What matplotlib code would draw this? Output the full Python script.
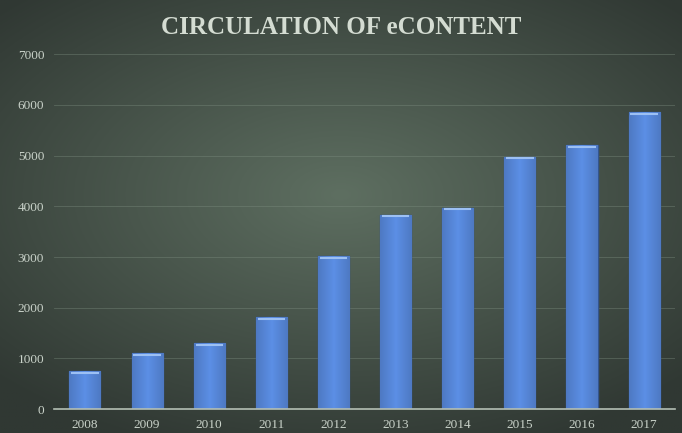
import matplotlib.pyplot as plt
import numpy as np

# data
years = ['2008', '2009', '2010', '2011', '2012', '2013', '2014', '2015', '2016', '2017']
circulation = [750, 1100, 1300, 1810, 3020, 3830, 3970, 4980, 5200, 5850]
yticks = [0, 1000, 2000, 3000, 4000, 5000, 6000, 7000]

fig = plt.figure(figsize=(6.82, 4.33), dpi=100)

# radial background
bg = fig.add_axes([0, 0, 1, 1], zorder=0)
yy, xx = np.mgrid[-1:1:300j, -1:1:400j]
r = np.sqrt((xx * 0.9) ** 2 + ((yy + 0.1) * 1.0) ** 2)
r = np.clip(r / 1.25, 0, 1)
inner = np.array([0x5e, 0x6f, 0x61]) / 255
outer = np.array([0x30, 0x38, 0x33]) / 255
img = inner[None, None, :] * (1 - r[..., None]) + outer[None, None, :] * r[..., None]
bg.imshow(img, aspect='auto', extent=[0, 1, 0, 1])
bg.axis('off')

ax = fig.add_axes([0.079, 0.055, 0.911, 0.82], zorder=1)
ax.patch.set_alpha(0)

x = np.arange(len(years))
bars = ax.bar(x, circulation, width=0.5, color='#5a8de2', edgecolor='#34568f',
              linewidth=1.0, zorder=3)

# slight horizontal shading inside bars
grad = np.linspace(0, 1, 50)
grad = 1 - 0.15 * np.abs(grad - 0.5) * 2
for b in bars:
    gx, gy = b.get_x(), b.get_y()
    w, h = b.get_width(), b.get_height()
    im = ax.imshow(np.dstack([0.36 * grad, 0.56 * grad, 0.90 * grad]),
                   aspect='auto', extent=[gx, gx + w, gy, gy + h], zorder=3.5)
    im.set_clip_path(b)
    ax.plot([gx + 0.03, gx + w - 0.03], [h - 30, h - 30], color='#9cc0f4', lw=1.5,
            zorder=4, solid_capstyle='butt')

ax.set_xlim(-0.5, len(years) - 0.5)
ax.set_ylim(0, 7000)
ax.set_yticks(yticks)
ax.set_yticklabels([str(v) for v in yticks])
ax.set_xticks(x)
ax.set_xticklabels(years)
for lbl in ax.get_xticklabels() + ax.get_yticklabels():
    lbl.set_family('Liberation Serif')
    lbl.set_fontsize(9.5)
    lbl.set_color('#c9d2c9')
ax.tick_params(length=0, pad=7)
ax.grid(axis='y', color='#7d8e80', linewidth=0.6, alpha=0.45, zorder=1)
for s in ['top', 'right', 'left']:
    ax.spines[s].set_visible(False)
ax.spines['bottom'].set_color('#b4bfb4')
ax.spines['bottom'].set_linewidth(1.2)
ax.spines['bottom'].set_zorder(5)

fig.text(0.5, 0.937, 'CIRCULATION OF eCONTENT', ha='center', va='center',
         family='Liberation Serif', fontsize=18, fontweight='bold', color='#d4dcd2')

fig.savefig('out.png', dpi=100)
